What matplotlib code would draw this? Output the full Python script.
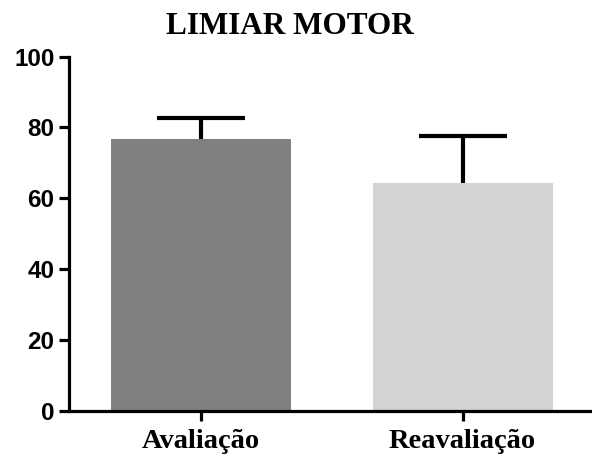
import matplotlib
matplotlib.use("Agg")
import matplotlib.pyplot as plt

categories = ["Avaliação", "Reavaliação"]
means = [76.8, 64.2]
upper_err = [5.8, 13.5]
colors = ["#808080", "#d3d3d3"]
yticks = [0, 20, 40, 60, 80, 100]
title = "LIMIAR MOTOR"

fig = plt.figure(figsize=(5.92, 4.59), dpi=100)
ax = fig.add_axes([69/592, 1-410.7/459, 1-69/592, (410.7-56.7)/459])

x = list(range(len(categories)))
ax.bar(x, means, width=0.687, color=colors, edgecolor="none", zorder=2)
eb = ax.errorbar(x, means, yerr=[[0]*len(means), upper_err], fmt="none",
                 ecolor="black", elinewidth=3, capsize=31.5, capthick=3, zorder=3)
# hide the zero-length lower caps
for cap in eb[1]:
    yd = list(cap.get_ydata())
    if all(abs(a - b) < 1e-9 for a, b in zip(yd, means)):
        cap.set_visible(False)

ax.set_xlim(-0.502, 1.494)
ax.set_ylim(0, 100)
ax.set_yticks(yticks)
ax.set_xticks(x)
ax.set_xticklabels(categories, fontfamily="Liberation Serif", fontweight="bold", fontsize=20.5)
for lab in ax.get_yticklabels():
    lab.set_fontfamily("Liberation Sans")
    lab.set_fontweight("bold")
    lab.set_fontsize(17.5)

for s in ["top", "right"]:
    ax.spines[s].set_visible(False)
for s in ["left", "bottom"]:
    ax.spines[s].set_linewidth(2.3)
ax.spines["left"].set_bounds(0, 100)
ax.tick_params(axis="both", direction="out", length=7, width=2.3, color="black")
ax.tick_params(axis="y", pad=3.5)
ax.tick_params(axis="x", pad=6)

fig.text(0.49, 1-26/459, title, ha="center", va="center",
         fontfamily="Liberation Serif", fontweight="bold", fontsize=22.5)

fig.savefig("out.png", dpi=100)
